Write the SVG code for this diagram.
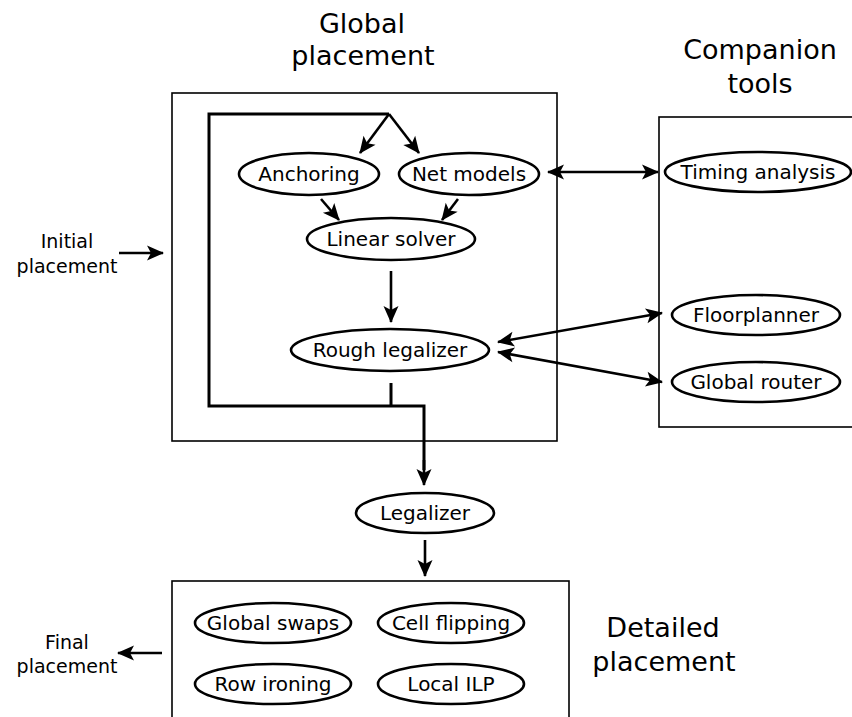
<svg xmlns="http://www.w3.org/2000/svg" width="852" height="717" viewBox="0 0 852 717">
<style>
text{font-family:"DejaVu Sans","Liberation Sans",sans-serif;fill:#000;text-anchor:middle}
.t{font-size:27px}
.n{font-size:20px}
.s{font-size:19px}
.box{fill:none;stroke:#000;stroke-width:1.6}
.el{fill:#fff;stroke:#000;stroke-width:2.6}
.ln{fill:none;stroke:#000;stroke-width:3}
.ar{fill:none;stroke:#000;stroke-width:2.6;marker-end:url(#ah)}
.ar2{fill:none;stroke:#000;stroke-width:2.6;marker-end:url(#ah);marker-start:url(#ah)}
</style>
<defs>
<marker id="ah" viewBox="-17 -8 19 16" refX="0" refY="0" markerWidth="19" markerHeight="16" markerUnits="userSpaceOnUse" orient="auto-start-reverse">
<path d="M1,0 L-16,-7.5 L-12,0 L-16,7.5 Z" fill="#000"/>
</marker>
</defs>
<rect width="852" height="717" fill="#fff"/>
<g id="titles">
<text class="t" x="362" y="33">Global</text>
<text class="t" x="363" y="65">placement</text>
<text class="t" x="760" y="59">Companion</text>
<text class="t" x="760" y="93">tools</text>
<text class="t" x="663" y="637">Detailed</text>
<text class="t" x="664" y="671">placement</text>
<text class="s" x="67" y="248">Initial</text>
<text class="s" x="67" y="273">placement</text>
<text class="s" x="67" y="649">Final</text>
<text class="s" x="67" y="673">placement</text>
</g>
<g id="boxes">
<rect id="global-box" class="box" x="172" y="93" width="385" height="348"/>
<rect id="companion-box" class="box" x="659" y="117" width="200" height="310"/>
<rect id="detailed-box" class="box" x="172" y="581" width="397" height="150"/>
</g>
<g id="connectors">
<polyline class="ln" points="389,114 209,114 209,406 424,406 424,470"/>
<line class="ln" x1="391" y1="383" x2="391" y2="406"/>
<line class="ar" x1="424" y1="460" x2="424" y2="485"/>
<line class="ar" x1="389" y1="114" x2="360" y2="153"/>
<line class="ar" x1="389" y1="114" x2="419" y2="153"/>
<line class="ar" x1="321" y1="199" x2="339" y2="220"/>
<line class="ar" x1="458" y1="199" x2="442" y2="220"/>
<line class="ar" x1="391" y1="271" x2="391" y2="322"/>
<line class="ar2" x1="548" y1="172" x2="658" y2="172"/>
<line class="ar2" x1="498" y1="342" x2="662" y2="313"/>
<line class="ar2" x1="498" y1="352" x2="662" y2="382"/>
<line class="ar" x1="119" y1="253" x2="163" y2="253"/>
<line class="ar" x1="162" y1="653" x2="118" y2="653"/>
<line class="ar" x1="425" y1="540" x2="425" y2="576"/>
</g>
<g id="anchoring"><ellipse class="el" cx="309" cy="174" rx="70" ry="21"/><text class="n" x="309" y="181">Anchoring</text></g>
<g id="net-models"><ellipse class="el" cx="469" cy="174" rx="70" ry="21"/><text class="n" x="469" y="181">Net models</text></g>
<g id="linear-solver"><ellipse class="el" cx="391" cy="239" rx="84" ry="21"/><text class="n" x="391" y="246">Linear solver</text></g>
<g id="rough-legalizer"><ellipse class="el" cx="390" cy="350" rx="99" ry="21"/><text class="n" x="390" y="357">Rough legalizer</text></g>
<g id="timing-analysis"><ellipse class="el" cx="758" cy="172" rx="93" ry="20"/><text class="n" x="758" y="179">Timing analysis</text></g>
<g id="floorplanner"><ellipse class="el" cx="756" cy="315" rx="84" ry="20"/><text class="n" x="756" y="322">Floorplanner</text></g>
<g id="global-router"><ellipse class="el" cx="756" cy="382" rx="84" ry="20"/><text class="n" x="756" y="389">Global router</text></g>
<g id="legalizer"><ellipse class="el" cx="425" cy="513" rx="69" ry="20"/><text class="n" x="425" y="520">Legalizer</text></g>
<g id="global-swaps"><ellipse class="el" cx="273" cy="623" rx="78" ry="20"/><text class="n" x="273" y="630">Global swaps</text></g>
<g id="cell-flipping"><ellipse class="el" cx="451" cy="623" rx="73" ry="20"/><text class="n" x="451" y="630">Cell flipping</text></g>
<g id="row-ironing"><ellipse class="el" cx="273" cy="684" rx="78" ry="20"/><text class="n" x="273" y="691">Row ironing</text></g>
<g id="local-ilp"><ellipse class="el" cx="451" cy="684" rx="73" ry="20"/><text class="n" x="451" y="691">Local ILP</text></g>
</svg>
